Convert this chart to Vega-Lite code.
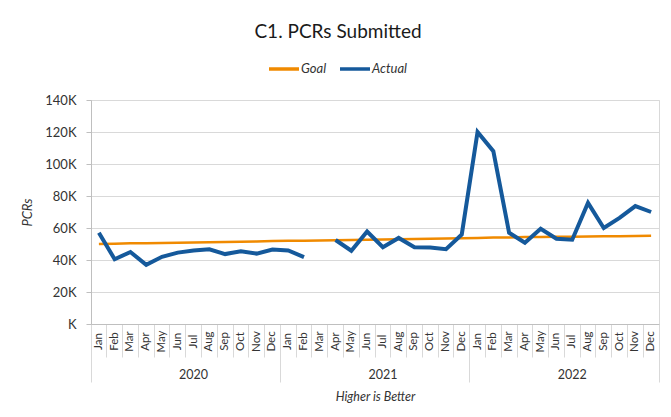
{
  "$schema": "https://vega.github.io/schema/vega-lite/v6.json",
  "width": 568,
  "height": 224,
  "autosize": "none",
  "padding": {"left": 91, "top": 100, "right": 12, "bottom": 93},
  "background": "white",
  "config": {"view": {"stroke": "#D9D9D9"}, "font": "Lato"},
  "title": {"text": "C1. PCRs Submitted", "font": "Lato", "fontSize": 19, "fontWeight": "normal", "color": "#1a1a1a", "anchor": "middle", "dx": -37, "offset": 10},
  "data": {"values": [
    {"key": "2020-Jan", "goal": 50000, "actual": 57000},
    {"key": "2020-Feb", "goal": 50200, "actual": 40500},
    {"key": "2020-Mar", "goal": 50400, "actual": 45000},
    {"key": "2020-Apr", "goal": 50500, "actual": 37000},
    {"key": "2020-May", "goal": 50700, "actual": 42000},
    {"key": "2020-Jun", "goal": 50800, "actual": 44600},
    {"key": "2020-Jul", "goal": 51000, "actual": 46000},
    {"key": "2020-Aug", "goal": 51100, "actual": 46700},
    {"key": "2020-Sep", "goal": 51300, "actual": 43700},
    {"key": "2020-Oct", "goal": 51400, "actual": 45500},
    {"key": "2020-Nov", "goal": 51600, "actual": 44000},
    {"key": "2020-Dec", "goal": 51800, "actual": 46500},
    {"key": "2021-Jan", "goal": 52000, "actual": 46000},
    {"key": "2021-Feb", "goal": 52100, "actual": 41800},
    {"key": "2021-Mar", "goal": 52200, "actual": null},
    {"key": "2021-Apr", "goal": 52400, "actual": 52500},
    {"key": "2021-May", "goal": 52500, "actual": 45800},
    {"key": "2021-Jun", "goal": 52700, "actual": 57800},
    {"key": "2021-Jul", "goal": 52800, "actual": 48000},
    {"key": "2021-Aug", "goal": 53000, "actual": 53800},
    {"key": "2021-Sep", "goal": 53100, "actual": 48000},
    {"key": "2021-Oct", "goal": 53300, "actual": 47800},
    {"key": "2021-Nov", "goal": 53500, "actual": 46800},
    {"key": "2021-Dec", "goal": 53600, "actual": 56000},
    {"key": "2022-Jan", "goal": 53800, "actual": 120000},
    {"key": "2022-Feb", "goal": 54000, "actual": 108000},
    {"key": "2022-Mar", "goal": 54100, "actual": 57000},
    {"key": "2022-Apr", "goal": 54300, "actual": 50800},
    {"key": "2022-May", "goal": 54400, "actual": 59500},
    {"key": "2022-Jun", "goal": 54500, "actual": 53300},
    {"key": "2022-Jul", "goal": 54600, "actual": 52700},
    {"key": "2022-Aug", "goal": 54700, "actual": 75700},
    {"key": "2022-Sep", "goal": 54800, "actual": 60000},
    {"key": "2022-Oct", "goal": 54900, "actual": 66300},
    {"key": "2022-Nov", "goal": 55000, "actual": 73700},
    {"key": "2022-Dec", "goal": 55100, "actual": 70000}
  ]},
  "layer": [
    {
      "mark": {"type": "line", "strokeWidth": 0, "strokeOpacity": 0},
      "encoding": {
        "x": {"field": "key", "type": "ordinal", "sort": null, "scale": {"type": "band", "paddingInner": 0, "paddingOuter": 0},
          "axis": {"orient": "bottom", "title": null, "domain": false, "grid": false, "bandPosition": 0, "tickSize": 33, "tickColor": "#D9D9D9", "labels": false}},
        "y": {"field": "goal", "type": "quantitative", "title": "PCRs", "scale": {"domain": [0, 140000]},
          "axis": {"values": [0, 20000, 40000, 60000, 80000, 100000, 120000, 140000], "labelExpr": "(datum.value === 0 ? '' : datum.value / 1000) + 'K'", "gridColor": "#D9D9D9", "domainColor": "#BFBFBF", "tickColor": "#BFBFBF", "tickSize": 5, "labelPadding": 10, "labelFontSize": 13, "labelColor": "#333333", "titleFontStyle": "italic", "titleFontWeight": "normal", "titleFontSize": 13, "titleColor": "#333333", "titlePadding": 10}}
      }
    },
    {
      "mark": {"type": "line", "strokeWidth": 0, "strokeOpacity": 0},
      "encoding": {
        "x": {"field": "key", "type": "ordinal", "sort": null,
          "axis": {"orient": "bottom", "domain": false, "grid": false, "values": ["2020-Jan", "2021-Jan", "2022-Jan"], "bandPosition": 0, "tickSize": 58, "tickColor": "#D9D9D9", "labelPadding": -8, "labelOffset": 94.7, "labelAngle": 0, "labelAlign": "center", "labelBaseline": "middle", "labelExpr": "slice(datum.value, 0, 4)", "labelFontSize": 12.5, "labelColor": "#333333", "labelOverlap": false, "labelBound": false, "title": "Higher is Better", "titleFontStyle": "italic", "titleFontWeight": "normal", "titleFontSize": 12.5, "titleColor": "#333333", "titlePadding": 8}},
        "y": {"field": "goal", "type": "quantitative", "title": "PCRs", "scale": {"domain": [0, 140000]},
          "axis": {"values": [0, 20000, 40000, 60000, 80000, 100000, 120000, 140000], "labelExpr": "(datum.value === 0 ? '' : datum.value / 1000) + 'K'", "gridColor": "#D9D9D9", "domainColor": "#BFBFBF", "tickColor": "#BFBFBF", "tickSize": 5, "labelPadding": 10, "labelFontSize": 13, "labelColor": "#333333", "titleFontStyle": "italic", "titleFontWeight": "normal", "titleFontSize": 13, "titleColor": "#333333", "titlePadding": 10}}
      }
    },
    {
      "mark": {"type": "line", "strokeWidth": 0, "strokeOpacity": 0},
      "encoding": {
        "x": {"field": "key", "type": "ordinal", "sort": null,
          "axis": {"orient": "bottom", "title": null, "domain": false, "grid": false, "values": ["2022-Dec"], "bandPosition": 1, "tickSize": 58, "tickColor": "#D9D9D9", "labels": false}},
        "y": {"field": "goal", "type": "quantitative", "title": "PCRs", "scale": {"domain": [0, 140000]},
          "axis": {"values": [0, 20000, 40000, 60000, 80000, 100000, 120000, 140000], "labelExpr": "(datum.value === 0 ? '' : datum.value / 1000) + 'K'", "gridColor": "#D9D9D9", "domainColor": "#BFBFBF", "tickColor": "#BFBFBF", "tickSize": 5, "labelPadding": 10, "labelFontSize": 13, "labelColor": "#333333", "titleFontStyle": "italic", "titleFontWeight": "normal", "titleFontSize": 13, "titleColor": "#333333", "titlePadding": 10}}
      }
    },
    {
      "mark": {"type": "line", "strokeWidth": 2.5},
      "encoding": {
        "x": {"field": "key", "type": "ordinal", "sort": null,
          "axis": {"orient": "bottom", "title": null, "domainColor": "#BFBFBF", "ticks": false, "tickSize": 0, "labelAngle": -90, "labelAlign": "center", "labelBaseline": "middle", "labelPadding": 17, "labelExpr": "slice(datum.value, 5)", "labelFontSize": 11.5, "labelColor": "#333333", "labelOverlap": false, "labelBound": false, "grid": false}},
        "y": {"field": "goal", "type": "quantitative", "title": "PCRs", "scale": {"domain": [0, 140000]},
          "axis": {"values": [0, 20000, 40000, 60000, 80000, 100000, 120000, 140000], "labelExpr": "(datum.value === 0 ? '' : datum.value / 1000) + 'K'", "gridColor": "#D9D9D9", "domainColor": "#BFBFBF", "tickColor": "#BFBFBF", "tickSize": 5, "labelPadding": 10, "labelFontSize": 13, "labelColor": "#333333", "titleFontStyle": "italic", "titleFontWeight": "normal", "titleFontSize": 13, "titleColor": "#333333", "titlePadding": 10}},
        "color": {"datum": "Goal", "type": "nominal", "scale": {"domain": ["Goal", "Actual"], "range": ["#F08A00", "#15599B"]},
          "legend": {"title": null, "orient": "none", "legendX": 176, "legendY": -48, "direction": "horizontal", "symbolType": "stroke", "symbolSize": 900, "symbolStrokeWidth": 3.5, "labelFontStyle": "italic", "labelFontSize": 13, "labelColor": "#333333", "labelOffset": 0, "columnPadding": 6}}
      }
    },
    {
      "mark": {"type": "line", "strokeWidth": 4},
      "encoding": {
        "x": {"field": "key", "type": "ordinal", "sort": null, "axis": null},
        "y": {"field": "actual", "type": "quantitative", "title": "PCRs", "scale": {"domain": [0, 140000]},
          "axis": {"values": [0, 20000, 40000, 60000, 80000, 100000, 120000, 140000], "labelExpr": "(datum.value === 0 ? '' : datum.value / 1000) + 'K'", "gridColor": "#D9D9D9", "domainColor": "#BFBFBF", "tickColor": "#BFBFBF", "tickSize": 5, "labelPadding": 10, "labelFontSize": 13, "labelColor": "#333333", "titleFontStyle": "italic", "titleFontWeight": "normal", "titleFontSize": 13, "titleColor": "#333333", "titlePadding": 10}},
        "color": {"datum": "Actual", "type": "nominal"}
      }
    }
  ],
  "resolve": {"axis": {"x": "independent"}}
}
